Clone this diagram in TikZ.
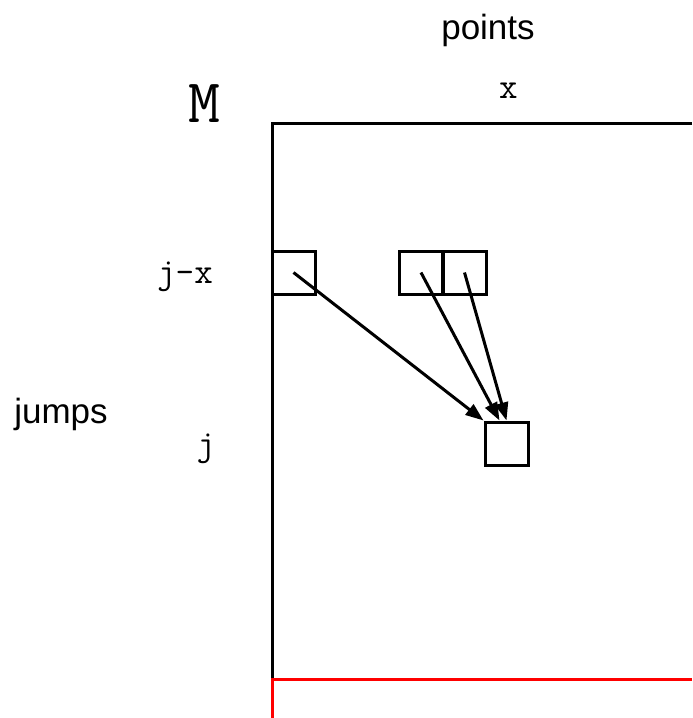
\documentclass[tikz,border=0pt]{standalone}
\usepackage{fontspec}
\setsansfont{Liberation Sans}
\usetikzlibrary{arrows.meta,calc}

\begin{document}
\begin{tikzpicture}[x=0.5pt,y=-0.5pt,>={Triangle[length=9pt,width=6.5pt]},line join=miter]
  \tikzset{
    cell/.style={draw,line width=1.5pt,minimum size=21.5pt,inner sep=0pt},
    lbl/.style={font=\fontsize{18}{20}\selectfont\ttfamily,inner sep=0pt},
    axis/.style={font=\fontsize{17.5}{20}\selectfont\sffamily,inner sep=0pt},
    link/.style={->,line width=1.5pt},
  }
  \useasboundingbox (0,0) rectangle (692,718);
  \coordinate (TL) at (272,123);
  \coordinate (TR) at (692,123);
  \coordinate (BL) at (272,679);
  \coordinate (BR) at (692,679);
  \coordinate (BE) at (272,718);
  \draw[line width=1.5pt] (TR) -- (TL) -- (BL);
  \draw[line width=1.5pt,red] (BR) -- (BL) -- (BE);
  \node[cell] (prev) at (293.5,272.5) {};
  \node[cell] (left) at (421,272.5) {};
  \node[cell] (right) at (464.5,272.5) {};
  \node[cell] (cur) at (506.5,443.5) {};
  \draw[link] (prev.center) -- (cur.north west);
  \draw[link] (left.center) -- ([xshift=-3.5pt]cur.north);
  \draw[link] (right.center) -- (cur.north);
  \node[axis] (points) at (488,30) {points};
  \node[axis] (jumps) at (61,414) {jumps};
  \node[lbl] (xcol) at (508.5,91) {x};
  \node[lbl,font=\fontsize{31}{34}\selectfont\ttfamily] (mat) at (204,104) {M};
  \node[lbl] (jx) at (185,277) {j-x};
  \node[lbl] (jrow) at (206,449) {j};
\end{tikzpicture}
\end{document}
